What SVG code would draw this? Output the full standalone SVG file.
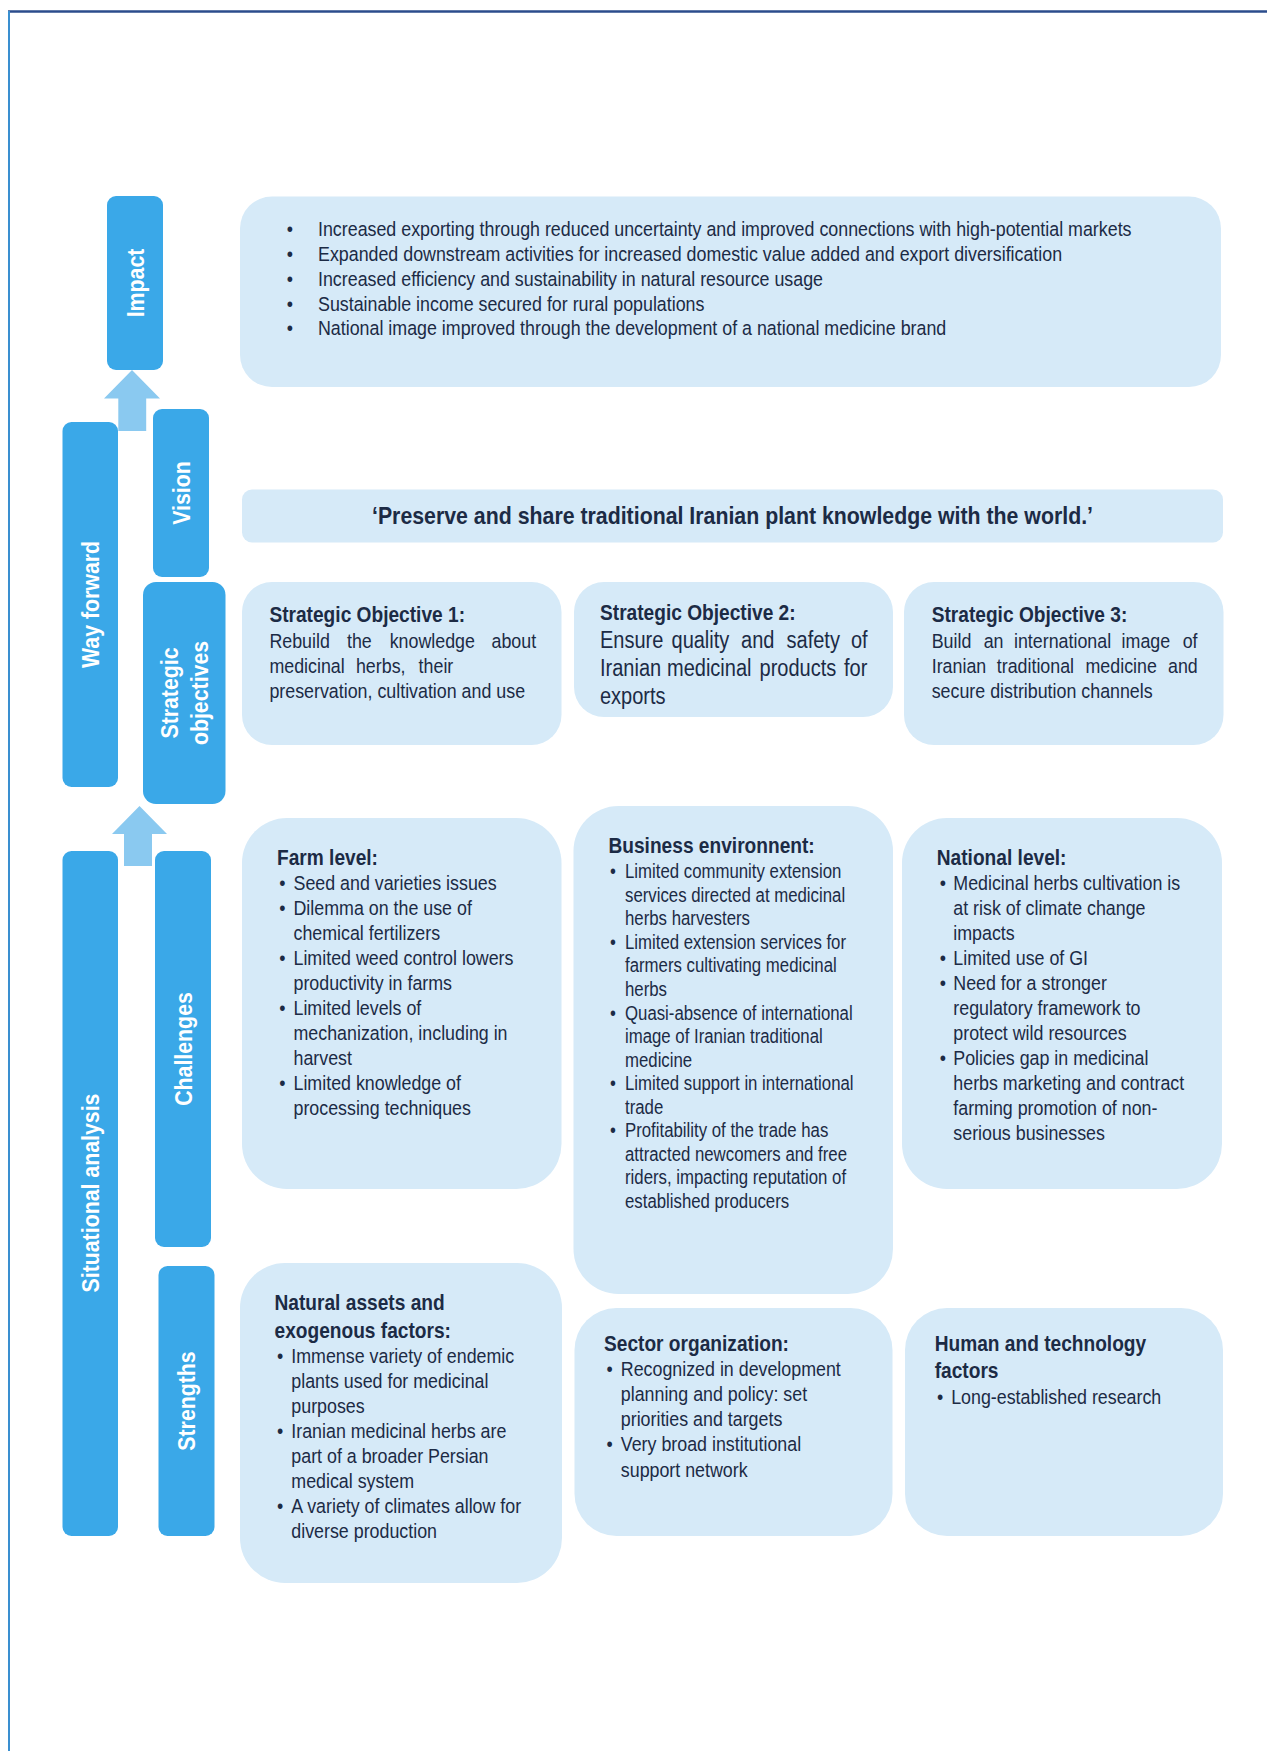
<svg xmlns="http://www.w3.org/2000/svg" width="1267" height="1751" viewBox="0 0 1267 1751">
<style>
.side{fill:#3aa8e8}
.box{fill:#d6eaf8}
.arrow{fill:#8ac9f0}
.lbl{font-family:"Liberation Sans",Arial,sans-serif;font-weight:bold;font-size:24.5px;fill:#ffffff;text-anchor:middle}
.t{font-family:"Liberation Sans",Arial,sans-serif;font-size:20.5px;fill:#1c2b45}
.s{font-size:19.3px}
.l{font-size:23px}
.h{font-weight:bold;font-size:22px}
.v{font-weight:bold;font-size:24.5px;text-anchor:middle}
.bu{text-anchor:middle}
</style>
<rect width="1267" height="1751" fill="#ffffff"/>
<g id="frame">
<line x1="8" y1="11.5" x2="1267" y2="11.5" stroke="#2b4c8c" stroke-width="2.5"/>
<line x1="9" y1="11" x2="9" y2="1751" stroke="#3a8fd0" stroke-width="2"/>
</g>

<g id="connectors">
<polygon class="arrow" points="132,370 160,398.5 146.2,398.5 146.2,431 118.3,431 118.3,398.5 104,398.5"/>
<polygon class="arrow" points="139.5,806 167,834 152,834 152,866 124,866 124,834 112,834"/>
</g>

<g id="label-impact">
<rect class="side" x="107" y="196" width="56" height="174" rx="9"/>
<text class="lbl" transform="translate(135,283) rotate(-90) scale(0.87,1)" y="8.8">Impact</text>
</g>
<g id="label-way-forward">
<rect class="side" x="62.5" y="422" width="55.5" height="365" rx="9"/>
<text class="lbl" transform="translate(90.3,604.5) rotate(-90) scale(0.87,1)" y="8.8">Way forward</text>
</g>
<g id="label-vision">
<rect class="side" x="153" y="409" width="56" height="168" rx="9"/>
<text class="lbl" transform="translate(181,493) rotate(-90) scale(0.87,1)" y="8.8">Vision</text>
</g>
<g id="label-strategic-objectives">
<rect class="side" x="143" y="582" width="82.5" height="222" rx="13"/>
<text class="lbl" transform="translate(184.3,693) rotate(-90) scale(0.87,1)"><tspan x="0" y="-6.3">Strategic</tspan><tspan x="0" y="23.7">objectives</tspan></text>
</g>
<g id="label-situational-analysis">
<rect class="side" x="62.5" y="851" width="55.5" height="685" rx="9"/>
<text class="lbl" transform="translate(90.3,1193) rotate(-90) scale(0.87,1)" y="8.8">Situational analysis</text>
</g>
<g id="label-challenges">
<rect class="side" x="155" y="851" width="56" height="396" rx="9"/>
<text class="lbl" transform="translate(183,1049) rotate(-90) scale(0.87,1)" y="8.8">Challenges</text>
</g>
<g id="label-strengths">
<rect class="side" x="158.5" y="1266" width="56" height="270" rx="9"/>
<text class="lbl" transform="translate(186.5,1401) rotate(-90) scale(0.87,1)" y="8.8">Strengths</text>
</g>

<g id="impact">
<rect class="box" x="240" y="196.5" width="981" height="190.5" rx="32"/>
<g transform="translate(318,0) scale(0.87,1)">
<text class="t bu" x="-32.2" y="236.5">•</text>
<text class="t" x="0" y="236.5">Increased exporting through reduced uncertainty and improved connections with high-potential markets</text>
<text class="t bu" x="-32.2" y="261.2">•</text>
<text class="t" x="0" y="261.2">Expanded downstream activities for increased domestic value added and export diversification</text>
<text class="t bu" x="-32.2" y="285.9">•</text>
<text class="t" x="0" y="285.9">Increased efficiency and sustainability in natural resource usage</text>
<text class="t bu" x="-32.2" y="310.6">•</text>
<text class="t" x="0" y="310.6">Sustainable income secured for rural populations</text>
<text class="t bu" x="-32.2" y="335.3">•</text>
<text class="t" x="0" y="335.3">National image improved through the development of a national medicine brand</text>
</g>
</g>

<g id="vision">
<rect class="box" x="242" y="489.5" width="981" height="53" rx="10"/>
<g transform="translate(732.5,0) scale(0.87,1)">
<text class="t v" x="0" y="524.5">‘Preserve and share traditional Iranian plant knowledge with the world.’</text>
</g>
</g>

<g id="strategic-objective-1">
<rect class="box" x="242" y="582" width="319.5" height="163" rx="30"/>
<g transform="translate(269.4,0) scale(0.87,1)">
<text class="t h" x="0" y="622">Strategic Objective 1:</text>
<text class="t" y="648"><tspan x="0">Rebuild</tspan><tspan x="89.2">the</tspan><tspan x="138.3">knowledge</tspan><tspan x="255.3">about</tspan></text>
<text class="t" y="673"><tspan x="0">medicinal</tspan><tspan x="99.5">herbs,</tspan><tspan x="171.5">their</tspan></text>
<text class="t" x="0" y="698">preservation, cultivation and use</text>
</g>
</g>

<g id="strategic-objective-2">
<rect class="box" x="574" y="582" width="319" height="135" rx="30"/>
<g transform="translate(600,0) scale(0.87,1)">
<text class="t h" x="0" y="620">Strategic Objective 2:</text>
<text class="t l" y="648.5"><tspan x="0">Ensure</tspan><tspan x="82.2">quality</tspan><tspan x="162.1">and</tspan><tspan x="214.4">safety</tspan><tspan x="288.5">of</tspan></text>
<text class="t l" y="676.4"><tspan x="0">Iranian</tspan><tspan x="77">medicinal</tspan><tspan x="183.4">products</tspan><tspan x="280.5">for</tspan></text>
<text class="t l" x="0" y="704.3">exports</text>
</g>
</g>

<g id="strategic-objective-3">
<rect class="box" x="904" y="582" width="319.5" height="163" rx="30"/>
<g transform="translate(931.7,0) scale(0.87,1)">
<text class="t h" x="0" y="622">Strategic Objective 3:</text>
<text class="t" y="648"><tspan x="0">Build</tspan><tspan x="59.7">an</tspan><tspan x="94.6">international</tspan><tspan x="218.3">image</tspan><tspan x="288.5">of</tspan></text>
<text class="t" y="673"><tspan x="0">Iranian</tspan><tspan x="74.8">traditional</tspan><tspan x="176.8">medicine</tspan><tspan x="271.6">and</tspan></text>
<text class="t" x="0" y="698">secure distribution channels</text>
</g>
</g>

<g id="farm-level">
<rect class="box" x="242" y="818" width="319.5" height="371" rx="45"/>
<g transform="translate(293.5,0) scale(0.87,1)">
<text class="t h" x="-19" y="865.5">Farm level:</text>
<text class="t bu" x="-12.8" y="890.5">•</text>
<text class="t" x="0" y="890.5">Seed and varieties issues</text>
<text class="t bu" x="-12.8" y="915.5">•</text>
<text class="t" x="0" y="915.5">Dilemma on the use of</text>
<text class="t" x="0" y="940.5">chemical fertilizers</text>
<text class="t bu" x="-12.8" y="965.5">•</text>
<text class="t" x="0" y="965.5">Limited weed control lowers</text>
<text class="t" x="0" y="990.5">productivity in farms</text>
<text class="t bu" x="-12.8" y="1015.5">•</text>
<text class="t" x="0" y="1015.5">Limited levels of</text>
<text class="t" x="0" y="1040.5">mechanization, including in</text>
<text class="t" x="0" y="1065.5">harvest</text>
<text class="t bu" x="-12.8" y="1090.5">•</text>
<text class="t" x="0" y="1090.5">Limited knowledge of</text>
<text class="t" x="0" y="1115.5">processing techniques</text>
</g>
</g>

<g id="business-environment">
<rect class="box" x="573.5" y="806" width="319.5" height="488" rx="45"/>
<g transform="translate(625,0) scale(0.87,1)">
<text class="t h" x="-19" y="853.3">Business environnent:</text>
<text class="t s bu" x="-13.8" y="878.3">•</text>
<text class="t s" x="0" y="878.3">Limited community extension</text>
<text class="t s" x="0" y="901.9">services directed at medicinal</text>
<text class="t s" x="0" y="925.4">herbs harvesters</text>
<text class="t s bu" x="-13.8" y="949">•</text>
<text class="t s" x="0" y="949">Limited extension services for</text>
<text class="t s" x="0" y="972.5">farmers cultivating medicinal</text>
<text class="t s" x="0" y="996.1">herbs</text>
<text class="t s bu" x="-13.8" y="1019.6">•</text>
<text class="t s" x="0" y="1019.6">Quasi-absence of international</text>
<text class="t s" x="0" y="1043.2">image of Iranian traditional</text>
<text class="t s" x="0" y="1066.7">medicine</text>
<text class="t s bu" x="-13.8" y="1090.3">•</text>
<text class="t s" x="0" y="1090.3">Limited support in international</text>
<text class="t s" x="0" y="1113.8">trade</text>
<text class="t s bu" x="-13.8" y="1137.4">•</text>
<text class="t s" x="0" y="1137.4">Profitability of the trade has</text>
<text class="t s" x="0" y="1160.9">attracted newcomers and free</text>
<text class="t s" x="0" y="1184.5">riders, impacting reputation of</text>
<text class="t s" x="0" y="1208">established producers</text>
</g>
</g>

<g id="national-level">
<rect class="box" x="902" y="818" width="320" height="371" rx="45"/>
<g transform="translate(953.3,0) scale(0.87,1)">
<text class="t h" x="-19" y="865.5">National level:</text>
<text class="t bu" x="-12" y="890.5">•</text>
<text class="t" x="0" y="890.5">Medicinal herbs cultivation is</text>
<text class="t" x="0" y="915.5">at risk of climate change</text>
<text class="t" x="0" y="940.5">impacts</text>
<text class="t bu" x="-12" y="965.5">•</text>
<text class="t" x="0" y="965.5">Limited use of GI</text>
<text class="t bu" x="-12" y="990.5">•</text>
<text class="t" x="0" y="990.5">Need for a stronger</text>
<text class="t" x="0" y="1015.5">regulatory framework to</text>
<text class="t" x="0" y="1040.5">protect wild resources</text>
<text class="t bu" x="-12" y="1065.5">•</text>
<text class="t" x="0" y="1065.5">Policies gap in medicinal</text>
<text class="t" x="0" y="1090.5">herbs marketing and contract</text>
<text class="t" x="0" y="1115.5">farming promotion of non-</text>
<text class="t" x="0" y="1140.5">serious businesses</text>
</g>
</g>

<g id="natural-assets">
<rect class="box" x="240" y="1263" width="322" height="320" rx="45"/>
<g transform="translate(291.3,0) scale(0.87,1)">
<text class="t h" x="-19.3" y="1310.5">Natural assets and</text>
<text class="t h" x="-19.3" y="1338">exogenous factors:</text>
<text class="t bu" x="-12.8" y="1363">•</text>
<text class="t" x="0" y="1363">Immense variety of endemic</text>
<text class="t" x="0" y="1388">plants used for medicinal</text>
<text class="t" x="0" y="1413">purposes</text>
<text class="t bu" x="-12.8" y="1438">•</text>
<text class="t" x="0" y="1438">Iranian medicinal herbs are</text>
<text class="t" x="0" y="1463">part of a broader Persian</text>
<text class="t" x="0" y="1488">medical system</text>
<text class="t bu" x="-12.8" y="1513">•</text>
<text class="t" x="0" y="1513">A variety of climates allow for</text>
<text class="t" x="0" y="1538">diverse production</text>
</g>
</g>

<g id="sector-organization">
<rect class="box" x="574.5" y="1308" width="318" height="228" rx="42"/>
<g transform="translate(620.8,0) scale(0.87,1)">
<text class="t h" x="-19.3" y="1351">Sector organization:</text>
<text class="t bu" x="-12.9" y="1376.5">•</text>
<text class="t" x="0" y="1376.5">Recognized in development</text>
<text class="t" x="0" y="1401.5">planning and policy: set</text>
<text class="t" x="0" y="1426.5">priorities and targets</text>
<text class="t bu" x="-12.9" y="1451.5">•</text>
<text class="t" x="0" y="1451.5">Very broad institutional</text>
<text class="t" x="0" y="1476.5">support network</text>
</g>
</g>

<g id="human-technology">
<rect class="box" x="905" y="1308" width="318" height="228" rx="42"/>
<g transform="translate(951.2,0) scale(0.87,1)">
<text class="t h" x="-19" y="1351">Human and technology</text>
<text class="t h" x="-19" y="1378">factors</text>
<text class="t bu" x="-12.8" y="1404.5">•</text>
<text class="t" x="0" y="1404.5">Long-established research</text>
</g>
</g>
</svg>
